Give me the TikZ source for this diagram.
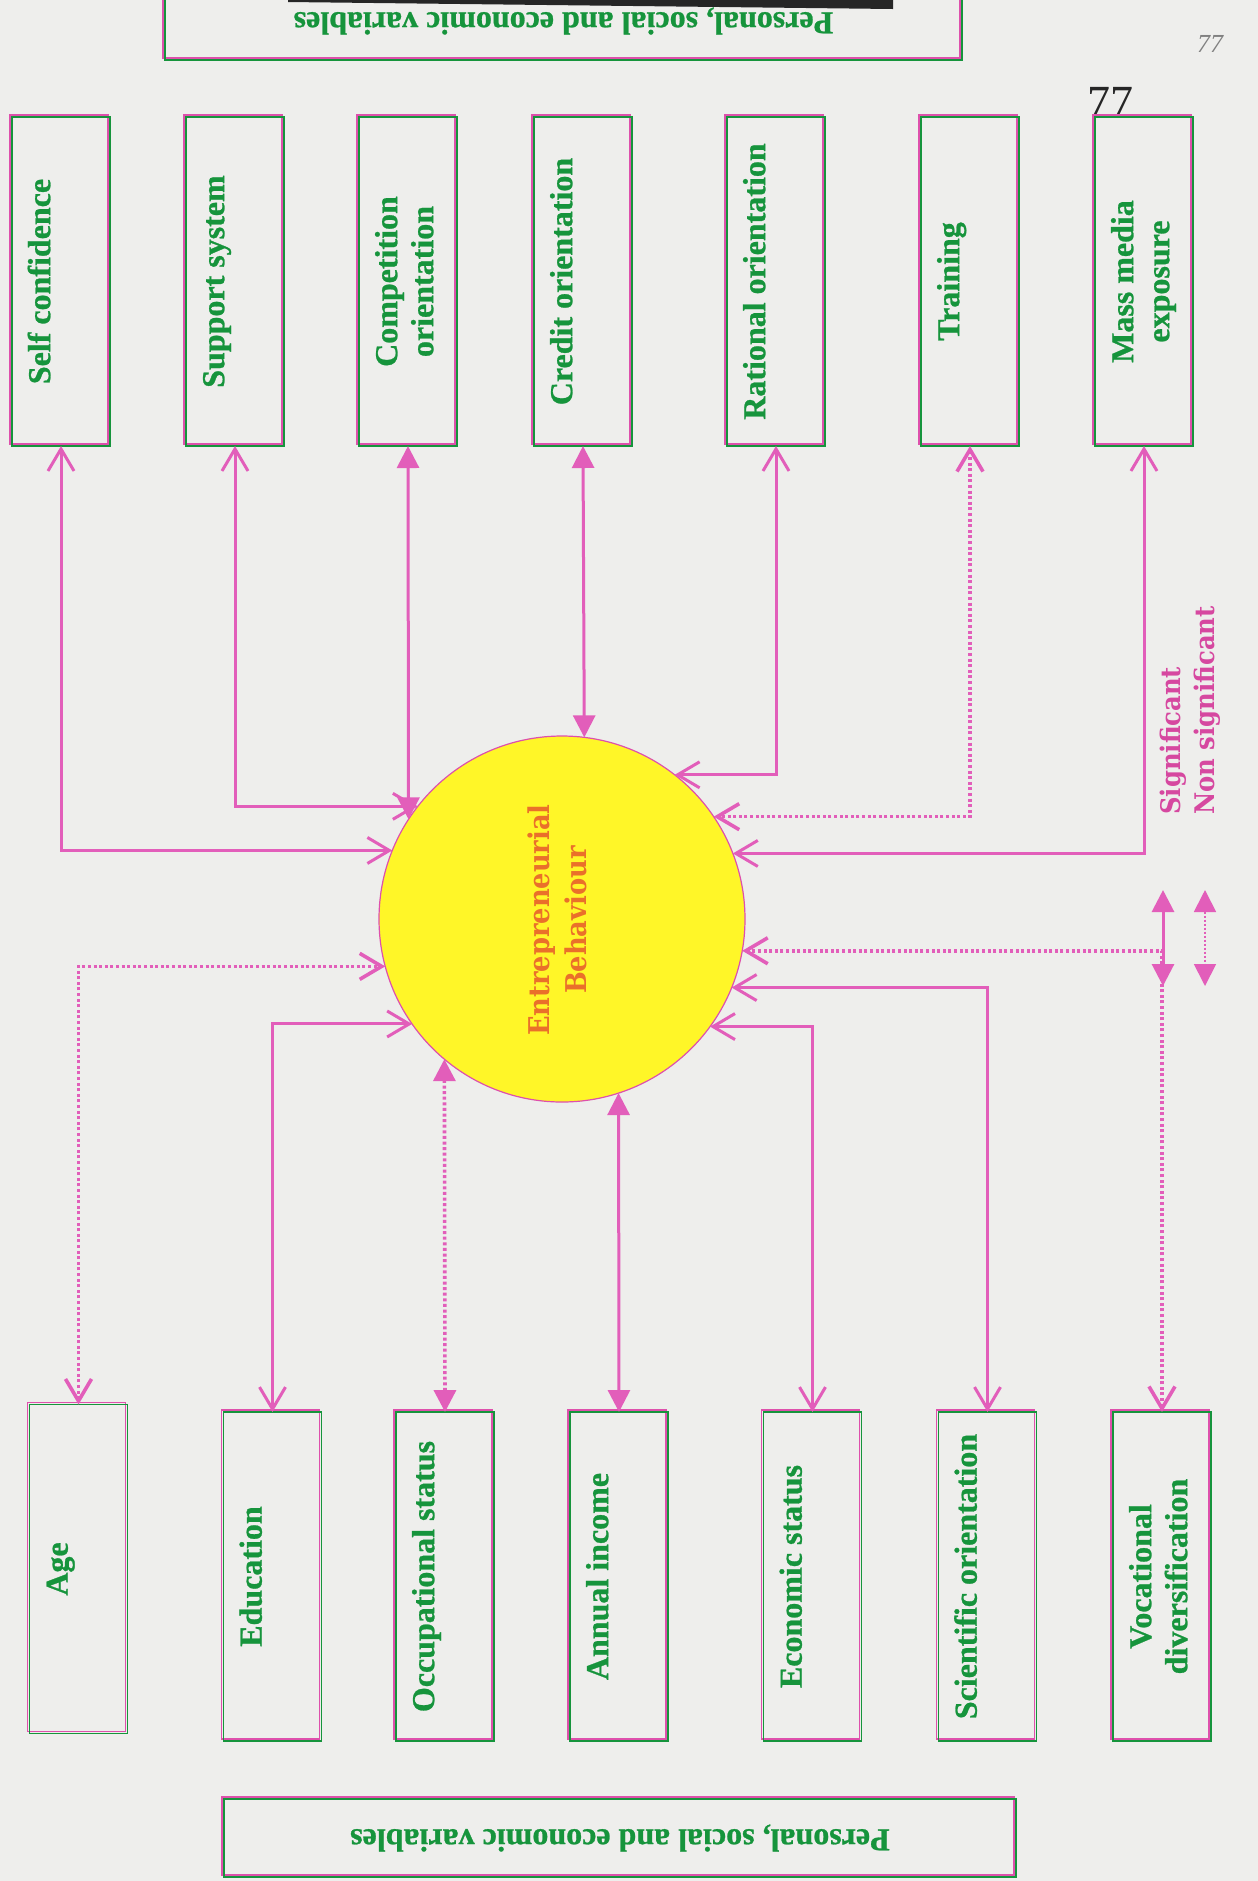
\documentclass[tikz,border=0pt]{standalone}
\usepackage{fontspec}
\setmainfont[BoldFeatures={FakeBold=0.8}]{Liberation Serif}
\newfontfamily\slabfont{DejaVu Serif Condensed}
\usepackage{graphicx, xcolor}
\usetikzlibrary{arrows.meta}
\definecolor{paper}{RGB}{238,238,236}
\definecolor{pinkline}{RGB}{226,94,186}
\definecolor{boxpink}{RGB}{222,80,172}
\definecolor{boxgreen}{RGB}{22,148,60}
\definecolor{ebyellow}{RGB}{255,246,40}
\definecolor{eborange}{RGB}{234,112,42}
\definecolor{legendpink}{RGB}{214,72,160}
\newcommand{\boxfont}{\fontsize{16}{18}\selectfont\bfseries}
\newcommand{\vlabel}[2]{\rotatebox{90}{\begin{tabular}{@{}c@{}}#1\\{}#2\end{tabular}}}
\tikzstyle{varbox} = [rectangle, draw=boxgreen, line width=0.8pt, minimum width=49pt, minimum height=164.5pt, inner sep=0pt, outer sep=0pt, text=boxgreen, font=\boxfont, preaction={draw=boxpink, line width=0.8pt, transform canvas={xshift=-1pt,yshift=1pt}}]
\tikzstyle{headbox} = [rectangle, draw=boxgreen, line width=0.8pt, minimum height=39pt, inner sep=0pt, text=boxgreen, font=\boxfont, preaction={draw=boxpink, line width=0.8pt, transform canvas={xshift=-1pt,yshift=1pt}}]
\tikzstyle{ebcircle} = [circle, draw=boxpink, line width=0.6pt, fill=ebyellow, minimum size=183pt, inner sep=0pt, outer sep=0pt]
\tikzstyle{ebtext} = [text=eborange, font=\slabfont\bfseries\fontsize{14.3}{18.5}\selectfont, align=center, inner sep=0pt]
\tikzstyle{legendtext} = [text=legendpink, font=\slabfont\bfseries\fontsize{13.5}{17}\selectfont, align=left, inner sep=0pt]
\tikzstyle{sigarrow} = [draw=pinkline, line width=1.5pt]
\tikzstyle{nsigarrow} = [draw=pinkline, line width=1.8pt, dash pattern=on 1.5pt off 1.3pt]
\tikzstyle{legenddots} = [draw=pinkline, line width=0.9pt, dash pattern=on 1pt off 1pt]
\tikzstyle{openhead} = [>={Straight Barb[length=11pt,width=13pt]}, <->]
\tikzstyle{fillhead} = [>={Triangle[length=11pt,width=11pt]}, <->]

\begin{document}
\begin{tikzpicture}[x=0.5pt,y=-0.5pt]
\useasboundingbox (0,0) rectangle (1258,1881);
\fill[paper] (0,0) rectangle (1258,1881);

% page marks
\node (pgno) [text=black!85, font=\fontsize{23}{23}\selectfont] at (1110,102) {77};
\node (pgnosmall) [text=black!50, font=\itshape\fontsize{13}{13}\selectfont] at (1210,44) {77};

% headers
\node (headtop) [headbox, minimum width=398.5pt] at (563.5,21) {\rotatebox{180}{Personal, social and economic variables}};
\node (headbot) [headbox, minimum width=396pt] at (620,1838) {\rotatebox{180}{Personal, social and economic variables}};
\fill[black!85] (288,0) -- (893,0) -- (893,9) -- (288,2) -- cycle;

% centre
\node (eb) [ebcircle] at (562,919) {};
\node (ebt) [ebtext, rotate=90] at (557,920) {Entrepreneurial\\Behaviour};

% upper variables
\node (sc) [varbox] at (61,281.5) {\vlabel{Self confidence}{}};
\node (ss) [varbox] at (235,281.5) {\vlabel{Support system}{}};
\node (co) [varbox] at (408,281.5) {\vlabel{Competition}{orientation}};
\node (cr) [varbox] at (583,281.5) {\vlabel{Credit orientation}{}};
\node (ro) [varbox] at (776,281.5) {\vlabel{Rational orientation}{}};
\node (tr) [varbox] at (970,281.5) {\vlabel{Training}{}};
\node (mm) [varbox] at (1144,281.5) {\vlabel{Mass media}{exposure}};

% lower variables
\node (ag) [varbox] at (78.5,1569) {\vlabel{Age}{}};
\node (ed) [varbox] at (272.5,1576.5) {\vlabel{Education}{}};
\node (os) [varbox] at (445,1576.5) {\vlabel{Occupational status}{}};
\node (ai) [varbox] at (619,1576.5) {\vlabel{Annual income}{}};
\node (es) [varbox] at (812.5,1576.5) {\vlabel{Economic status}{}};
\node (so) [varbox] at (987.5,1576.5) {\vlabel{Scientific orientation}{}};
\node (vd) [varbox] at (1162,1576.5) {\vlabel{Vocational}{diversification}};

% connectors, upper row
\draw [sigarrow, openhead] (sc.south) |- (eb.158.5);
\draw [sigarrow, openhead] (ss.south) |- (eb.142.7);
\draw [sigarrow, fillhead] (co.south) -- (eb.147.3);
\draw [sigarrow, fillhead] (cr.south) -- (eb.83.4);
\draw [sigarrow, openhead] (ro.south) |- (eb.52.4);
\draw [nsigarrow, openhead] (tr.south) |- (eb.34.6);
\draw [sigarrow, openhead] (mm.south) |- (eb.21.1);

% connectors, lower row
\draw [nsigarrow, openhead] (ag.north) |- (eb.195.2);
\draw [sigarrow, openhead] (ed.north) |- (eb.215.4);
\draw [nsigarrow, fillhead] (os.north) -- (eb.230.3);
\draw [sigarrow, fillhead] (ai.north) -- (eb.288.15);
\draw [sigarrow, openhead] (es.north) |- (eb.324.6);
\draw [sigarrow, openhead] (so.north) |- (eb.338.2);
\draw [nsigarrow, openhead] (vd.north) |- (eb.350.9);

% legend
\node (legend) [legendtext, rotate=90, anchor=west] at (1190,815) {Significant\\Non significant};
\coordinate (sigtop) at (1163,890);
\coordinate (sigbot) at (1163,986);
\coordinate (nsigtop) at (1205,890);
\coordinate (nsigbot) at (1205,986);
\draw [sigarrow, fillhead] (sigtop) -- (sigbot);
\draw [legenddots, fillhead] (nsigtop) -- (nsigbot);

\end{tikzpicture}
\end{document}
